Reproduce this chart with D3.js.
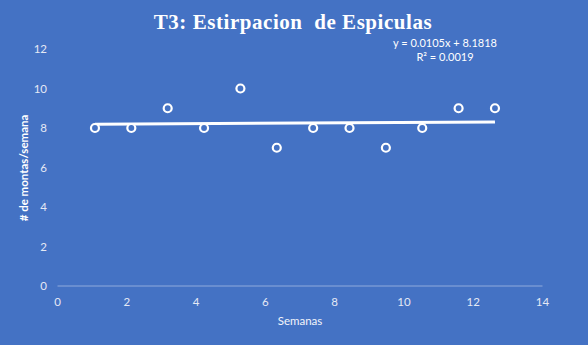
<!DOCTYPE html>
<html>
<head>
<meta charset="utf-8">
<script src="https://cdn.jsdelivr.net/npm/d3@7"></script>
<style>
  html, body { margin: 0; padding: 0; background: #4472C4; }
  svg { display: block; }
</style>
</head>
<body>
<svg id="chart" width="588" height="345"></svg>
<script>
// Weekly mounts per week, treatment T3
const semanas = [1, 2, 3, 4, 5, 6, 7, 8, 9, 10, 11, 12];
const montas = [8, 8, 9, 8, 10, 7, 8, 8, 7, 8, 9, 9];
const xTicks = [0, 2, 4, 6, 8, 10, 12, 14];
const yTicks = [0, 2, 4, 6, 8, 10, 12];
const trendSlope = 0.0105;
const trendIntercept = 8.1818;
const trendLabel = "y = 0.0105x + 8.1818";
const r2Label = "R² = 0.0019";

const W = 588, H = 345;
const svg = d3.select("#chart");
const font = "Lato, 'Open Sans', sans-serif";

svg.append("rect").attr("width", W).attr("height", H).attr("fill", "#4472C4");

// Axis scale for ticks and plot scale for marks
const xAxisScale = d3.scaleLinear().domain([0, 14]).range([57.5, 542.5]);
const x = d3.scaleLinear().domain([0, 14]).range([58.6, 567.7]);
const y = d3.scaleLinear().domain([0, 12]).range([286, 49]);

// Title
svg.append("text")
  .attr("x", 293).attr("y", 29)
  .attr("text-anchor", "middle")
  .attr("font-family", "'Liberation Serif', 'Times New Roman', serif")
  .attr("font-weight", "bold")
  .attr("font-size", 21)
  .attr("letter-spacing", 0.55)
  .attr("fill", "#ffffff")
  .attr("xml:space", "preserve")
  .text("T3: Estirpacion  de Espiculas");

// X axis line
svg.append("line")
  .attr("x1", xAxisScale(0)).attr("x2", xAxisScale(14))
  .attr("y1", y(0)).attr("y2", y(0))
  .attr("stroke", "#8faadc").attr("stroke-width", 1);

// X tick labels
svg.append("g").selectAll("text").data(xTicks).join("text")
  .attr("x", d => xAxisScale(d)).attr("y", 305.5)
  .attr("text-anchor", "middle")
  .attr("font-family", font).attr("font-size", 11.5)
  .attr("fill", "#e4e9f5")
  .text(d => d);

// Y tick labels
svg.append("g").selectAll("text").data(yTicks).join("text")
  .attr("x", 47).attr("y", d => y(d) + 4)
  .attr("text-anchor", "end")
  .attr("font-family", font).attr("font-size", 11.5)
  .attr("fill", "#e4e9f5")
  .text(d => d);

// Axis titles
svg.append("text")
  .attr("x", 300).attr("y", 325)
  .attr("text-anchor", "middle")
  .attr("font-family", font).attr("font-size", 11.5)
  .attr("fill", "#f2f4fa")
  .text("Semanas");

svg.append("text")
  .attr("transform", `translate(28, ${168}) rotate(-90)`)
  .attr("text-anchor", "middle")
  .attr("font-family", font).attr("font-size", 11.5)
  .attr("font-weight", "bold")
  .attr("fill", "#ffffff")
  .text("# de montas/semana");

// Linear trendline
const x0 = d3.min(semanas), x1 = d3.max(semanas);
svg.append("line")
  .attr("x1", x(x0)).attr("y1", y(trendIntercept + trendSlope * x0))
  .attr("x2", x(x1)).attr("y2", y(trendIntercept + trendSlope * x1))
  .attr("stroke", "#ffffff").attr("stroke-width", 3);

// Data points
svg.append("g").selectAll("circle").data(semanas).join("circle")
  .attr("cx", d => x(d))
  .attr("cy", (d, i) => y(montas[i]))
  .attr("r", 4)
  .attr("fill", "#4472C4")
  .attr("stroke", "#ffffff")
  .attr("stroke-width", 2.2);

// Trendline equation
svg.append("text")
  .attr("x", 445).attr("y", 47)
  .attr("text-anchor", "middle")
  .attr("font-family", font).attr("font-size", 11)
  .attr("fill", "#ffffff")
  .text(trendLabel);
svg.append("text")
  .attr("x", 445).attr("y", 61)
  .attr("text-anchor", "middle")
  .attr("font-family", font).attr("font-size", 11)
  .attr("fill", "#ffffff")
  .text(r2Label);
</script>
</body>
</html>
